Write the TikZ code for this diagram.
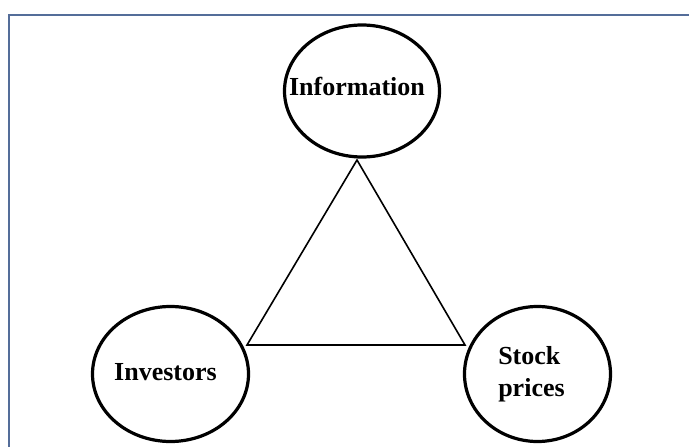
\documentclass[tikz,border=0pt]{standalone}
\usepackage{fontspec}
\setmainfont{Liberation Serif}
\usetikzlibrary{shapes.geometric}
\definecolor{framecol}{RGB}{84,109,153}
\tikzset{
  bubble/.style={draw=black, line width=3.2pt, ellipse, inner sep=0pt},
  btext/.style={font=\fontsize{26}{32}\selectfont\bfseries, inner sep=0pt},
  tri/.style={draw=black, line width=1.6pt, line join=miter},
  frameline/.style={draw=framecol, line width=1.5pt}
}
\begin{document}
\begin{tikzpicture}[x=1pt,y=-1pt]
\useasboundingbox (0,0) rectangle (689,447);
\fill[white] (0,0) rectangle (689,447);
\draw[frameline] (9,447) -- (9,15) -- (689,15);
\node[bubble, minimum width=155pt, minimum height=132pt,
      label={[btext, name=infot, xshift=-5pt, yshift=5pt]center:Information}] (info) at (362,91) {};
\node[bubble, minimum width=156pt, minimum height=135pt,
      label={[btext, name=invt, xshift=-5pt, yshift=2pt]center:Investors}] (inv) at (170.5,374) {};
\node[bubble, minimum width=146pt, minimum height=135pt,
      label={[btext, align=left, name=stockt, xshift=-6pt, yshift=0pt]center:Stock\\prices}] (stock) at (537.5,374) {};
\coordinate (bl) at (247,345);
\coordinate (br) at (465,345);
\coordinate (apex) at (357,160);
\draw[tri] (apex) -- (bl) -- (br) -- cycle;
\end{tikzpicture}
\end{document}
